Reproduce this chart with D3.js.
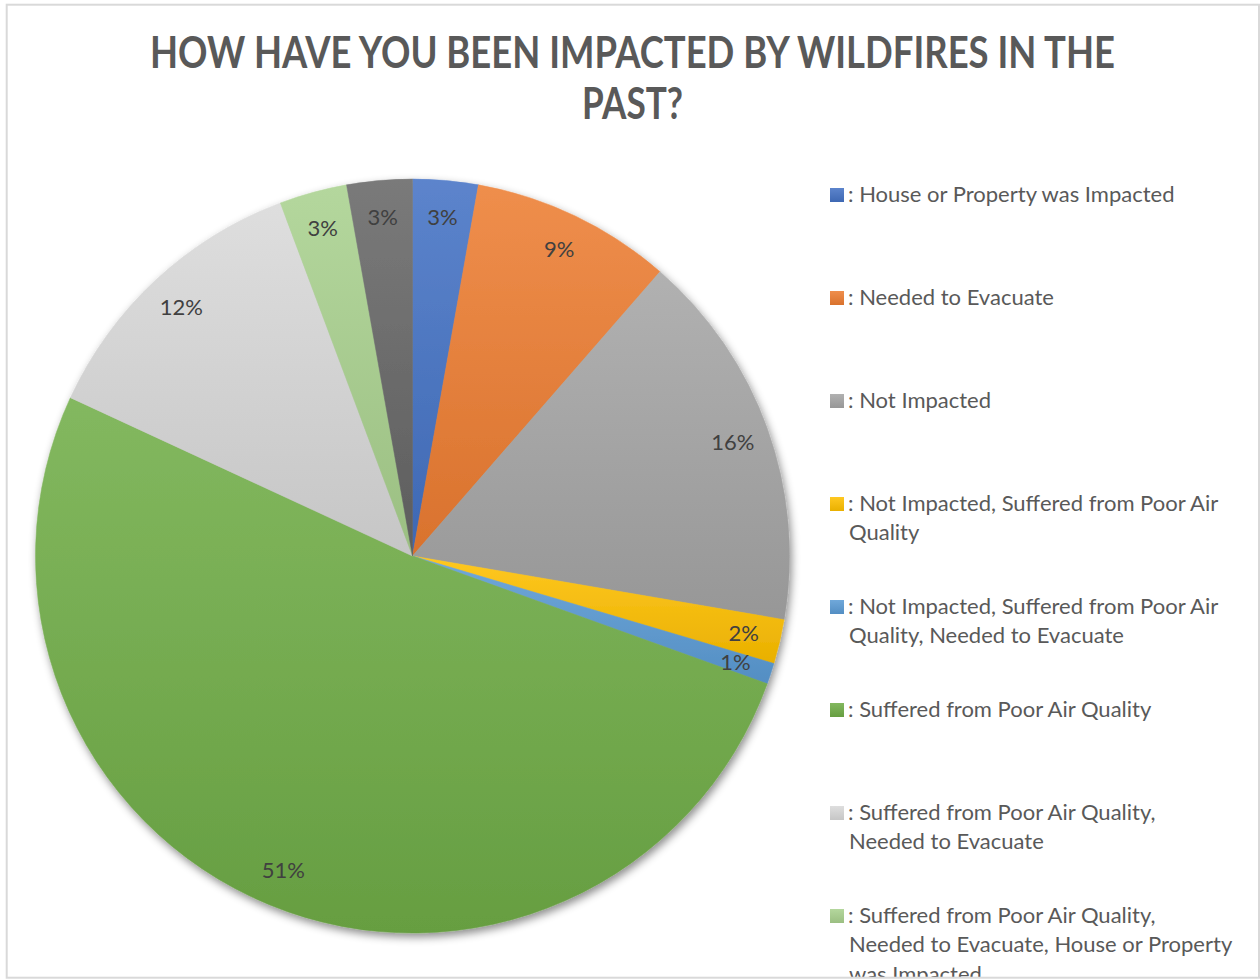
<!DOCTYPE html>
<html>
<head>
<meta charset="utf-8">
<script src="https://cdn.jsdelivr.net/npm/d3@7"></script>
<style>
  html, body { margin: 0; padding: 0; background: #ffffff; }
  svg { display: block; }
</style>
</head>
<body>
<svg id="chart" width="1260" height="979"></svg>
<script>
// ---- data ----
const title = ["HOW HAVE YOU BEEN IMPACTED BY WILDFIRES IN THE", "PAST?"];
const categories = [
  "House or Property was Impacted",
  "Needed to Evacuate",
  "Not Impacted",
  "Not Impacted, Suffered from Poor Air Quality",
  "Not Impacted, Suffered from Poor Air Quality, Needed to Evacuate",
  "Suffered from Poor Air Quality",
  "Suffered from Poor Air Quality, Needed to Evacuate",
  "Suffered from Poor Air Quality, Needed to Evacuate, House or Property was Impacted",
  "Suffered from Poor Air Quality, House or Property was Impacted"
];
const values = [2.8, 8.6, 16.3, 1.9, 0.9, 51.4, 12.4, 2.9, 2.8];
const colors = ["#4472C4", "#ED7D31", "#A5A5A5", "#FFC000", "#5B9BD5", "#70AD47", "#D9D9D9", "#A9D18E", "#666666"];
const legendLines = [
  [": House or Property was Impacted"],
  [": Needed to Evacuate"],
  [": Not Impacted"],
  [": Not Impacted, Suffered from Poor Air", "Quality"],
  [": Not Impacted, Suffered from Poor Air", "Quality, Needed to Evacuate"],
  [": Suffered from Poor Air Quality"],
  [": Suffered from Poor Air Quality,", "Needed to Evacuate"],
  [": Suffered from Poor Air Quality,", "Needed to Evacuate, House or Property", "was Impacted"],
  [": Suffered from Poor Air Quality, House", "or Property was Impacted"]
];

// ---- layout ----
const svg = d3.select("#chart");
const W = 1260, H = 979;
svg.append("rect").attr("width", W).attr("height", H).attr("fill", "#ffffff");

const defs = svg.append("defs");
const shadow = defs.append("filter").attr("id", "shadow")
  .attr("x", "-10%").attr("y", "-10%").attr("width", "125%").attr("height", "125%");
shadow.append("feDropShadow").attr("dx", 2).attr("dy", 4).attr("stdDeviation", 4)
  .attr("flood-color", "#000").attr("flood-opacity", 0.45);

colors.forEach((c, i) => {
  const g = defs.append("linearGradient").attr("id", "grad" + i)
    .attr("x1", 0).attr("y1", 0).attr("x2", 0).attr("y2", 1);
  g.append("stop").attr("offset", "0%").attr("stop-color", d3.interpolateRgb(c, "#ffffff")(0.13));
  g.append("stop").attr("offset", "100%").attr("stop-color", d3.color(c).darker(0.25).formatHex());
});

defs.append("clipPath").attr("id", "frameClip").append("rect")
  .attr("x", 7).attr("y", 5).attr("width", 1251).attr("height", 972);

// title
const titleG = svg.append("g").attr("fill", "#595959")
  .style("font-family", "Lato, 'Open Sans', sans-serif").style("font-weight", 700);
titleG.append("text").attr("x", 632.5).attr("y", 67.5).attr("text-anchor", "middle")
  .style("font-size", "43px").attr("textLength", 965).attr("lengthAdjust", "spacingAndGlyphs")
  .text(title[0]);
titleG.append("text").attr("x", 632.5).attr("y", 118.5).attr("text-anchor", "middle")
  .style("font-size", "43px").attr("textLength", 101).attr("lengthAdjust", "spacingAndGlyphs")
  .text(title[1]);

// pie
const cx = 412.5, cy = 556, R = 377;
const pie = d3.pie().sort(null).value(d => d)(values);
const arc = d3.arc().innerRadius(0).outerRadius(R);
const labelArc = d3.arc().innerRadius(340).outerRadius(340);
const fmt = d3.format(".0f");
const total = d3.sum(values);

const pieG = svg.append("g").attr("transform", `translate(${cx},${cy})`);
const slices = pieG.append("g").attr("filter", "url(#shadow)");
slices.selectAll("path").data(pie).join("path")
  .attr("d", arc)
  .attr("fill", (d, i) => `url(#grad${i})`)
  .attr("stroke", (d, i) => `url(#grad${i})`)
  .attr("stroke-width", 0.5);

pieG.append("g").selectAll("text").data(pie).join("text")
  .attr("transform", d => `translate(${labelArc.centroid(d)})`)
  .attr("text-anchor", "middle").attr("dy", "0.36em")
  .attr("fill", "#404040")
  .style("font-family", "Lato, 'Open Sans', sans-serif").style("font-size", "22px")
  .text(d => fmt(d.data / total * 100) + "%");

// legend
const legG = svg.append("g").attr("clip-path", "url(#frameClip)")
  .style("font-family", "Lato, 'Open Sans', sans-serif").style("font-size", "22px");
const item = legG.selectAll("g.item").data(categories).join("g")
  .attr("class", "item")
  .attr("transform", (d, i) => `translate(830, ${202 + i * 103})`);
item.append("rect").attr("x", 0).attr("y", -14).attr("width", 14).attr("height", 14)
  .attr("fill", (d, i) => `url(#grad${i})`);
item.append("text").attr("fill", "#595959")
  .each(function (d, i) {
    const t = d3.select(this);
    legendLines[i].forEach((line, j) => {
      t.append("tspan").attr("x", j === 0 ? 18 : 19).attr("y", j * 29.3).text(line);
    });
  });

// border
svg.append("rect").attr("x", 6.7).attr("y", 4.7).attr("width", 1252.3).attr("height", 973)
  .attr("fill", "none").attr("stroke", "#d9d9d9").attr("stroke-width", 2);
</script>
</body>
</html>
